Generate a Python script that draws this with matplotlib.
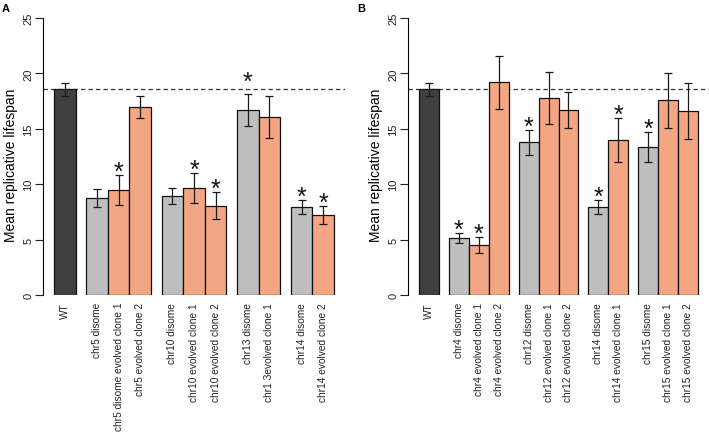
import matplotlib
matplotlib.use('Agg')
import matplotlib.pyplot as plt
import numpy as np

plt.rcParams['font.family'] = ['Liberation Sans', 'DejaVu Sans']

# Panel A data
labels_a = ['WT', 'chr5 disome', 'chr5 disome evolved clone 1', 'chr5 evolved clone 2',
            'chr10 disome', 'chr10 evolved clone 1', 'chr10 evolved clone 2',
            'chr13 disome', 'chr1 3evolved clone 1',
            'chr14 disome', 'chr14 evolved clone 2']
groups_a = [1, 3, 3, 2, 2]
kinds_a = ['wt', 'dis', 'evo', 'evo', 'dis', 'evo', 'evo', 'dis', 'evo', 'dis', 'evo']
means_a = [18.58, 8.73, 9.49, 16.99, 8.92, 9.64, 8.07, 16.72, 16.05, 7.98, 7.20]
errs_a = [0.60, 0.80, 1.37, 1.00, 0.74, 1.34, 1.19, 1.42, 1.88, 0.63, 0.80]
stars_a = [False, False, True, False, False, True, True, True, False, True, True]

# Panel B data
labels_b = ['WT', 'chr4 disome', 'chr4 evolved clone 1', 'chr4 evolved clone 2',
            'chr12 disome', 'chr12 evolved clone 1', 'chr12 evolved clone 2',
            'chr14 disome', 'chr14 evolved clone 1',
            'chr15 disome', 'chr15 evolved clone 1', 'chr15 evolved clone 2']
groups_b = [1, 3, 3, 2, 3]
kinds_b = ['wt', 'dis', 'evo', 'evo', 'dis', 'evo', 'evo', 'dis', 'evo', 'dis', 'evo', 'evo']
means_b = [18.58, 5.15, 4.55, 19.19, 13.77, 17.80, 16.69, 7.98, 13.98, 13.37, 17.56, 16.60]
errs_b = [0.60, 0.48, 0.72, 2.41, 1.17, 2.36, 1.63, 0.63, 1.96, 1.33, 2.50, 2.50]
stars_b = [False, True, True, False, True, False, False, True, True, True, False, False]

wt_mean = 18.58

colors = {'wt': '#404040', 'dis': '#bebebe', 'evo': '#f3a683'}

W, H = 709, 439


def positions(groups):
    # bar centres: groups separated by half a bar, first bar starts at 0
    xs = []
    x = 0.0
    for n in groups:
        for i in range(n):
            xs.append(x)
            x += 1
        x += 0.5
    return np.array(xs) + 0.5


def panel(fig, rect_px, labels, groups, kinds, means, errs, stars, letter, letter_x):
    l, r, t, b = rect_px
    ax = fig.add_axes([l / W, 1 - b / H, (r - l) / W, (b - t) / H])
    xs = positions(groups)
    total = xs[-1] + 0.5
    pad = 0.04 * total
    ax.bar(xs, means, width=1.0, color=[colors[k] for k in kinds],
           edgecolor='#111111', linewidth=0.9, zorder=2)
    ax.errorbar(xs, means, yerr=errs, fmt='none', ecolor='#1a1a1a',
                elinewidth=0.9, capsize=3.2, capthick=0.9, zorder=3)
    for x, m, e, s in zip(xs, means, errs, stars):
        if s:
            y = m + e - 0.35
            # keep the star clear of the dashed WT line
            if abs(y + 0.6 - wt_mean) < 0.6:
                y = wt_mean
            ax.text(x, y, '*', ha='center', va='baseline',
                    fontsize=18, color='#111111', zorder=4)
    ax.axhline(wt_mean, color='#333333', linewidth=0.9, dashes=(3.5, 2.5), zorder=1)

    ax.set_xlim(-pad, total + pad)
    ax.set_ylim(0, 26)
    for sp in ['top', 'right', 'bottom']:
        ax.spines[sp].set_visible(False)
    ax.spines['left'].set_bounds(0, 25)
    ax.spines['left'].set_linewidth(0.8)
    ax.set_yticks([0, 5, 10, 15, 20, 25])
    ax.set_yticklabels(['0', '5', '10', '15', '20', '25'], rotation=90, va='center')
    ax.tick_params(axis='y', length=5.8, width=0.8, labelsize=8, pad=1, colors='#222222')
    ax.set_xticks(xs)
    ax.set_xticklabels(labels, rotation=90, va='top', ha='center')
    ax.tick_params(axis='x', length=0, labelsize=7.3, pad=5, colors='#222222')
    ax.set_ylabel('Mean replicative lifespan', fontsize=10)
    ax.yaxis.set_label_coords(-25 / (r - l), (b - 165) / (b - t))
    fig.text(letter_x / W, 1 - 9 / H, letter, fontsize=8, fontweight='bold',
             ha='left', va='center')
    return ax


fig = plt.figure(figsize=(W / 100, H / 100), dpi=100)

# left panel
panel(fig, (43, 345, 8, 296), labels_a, groups_a, kinds_a,
      means_a, errs_a, stars_a, 'A', 2)
# right panel
panel(fig, (408, 709, 8, 296), labels_b, groups_b, kinds_b,
      means_b, errs_b, stars_b, 'B', 357)

fig.savefig('out.png', dpi=100)
